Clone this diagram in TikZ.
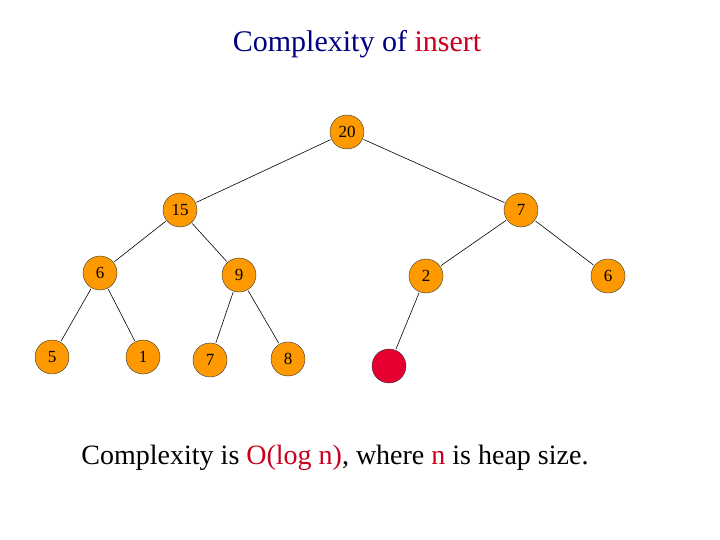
\documentclass[tikz,border=0pt]{standalone}
\usepackage{fontspec}
\setmainfont{Liberation Serif}
\definecolor{heap}{RGB}{255,153,0}
\definecolor{newn}{RGB}{230,0,50}
\definecolor{ttl}{RGB}{0,0,128}
\definecolor{hl}{RGB}{200,0,30}
\begin{document}
\begin{tikzpicture}[x=1pt,y=-1pt,
  hn/.style={circle,draw=black!80,fill=heap,minimum size=34pt,inner sep=0pt,font=\fontsize{17}{17}\selectfont},
  nn/.style={hn,fill=newn},
  ed/.style={draw=black,line width=0.6pt,shorten <=1pt,shorten >=1pt}]
\useasboundingbox (0,0) rectangle (720,540);
\node[text=ttl,font=\fontsize{30}{30}\selectfont] (title) at (357,44) {Complexity of \textcolor{hl}{insert}};
\node[hn] (a) at (347,132) {20};
\node[hn] (b) at (180,210) {15};
\node[hn] (c) at (521,210) {7};
\node[hn] (d) at (100,273) {6};
\node[hn] (e) at (239,275) {9};
\node[hn] (f) at (426,276) {2};
\node[hn] (g) at (608,276) {6};
\node[hn] (h) at (52,357) {5};
\node[hn] (i) at (143,357) {1};
\node[hn] (j) at (210,360) {7};
\node[hn] (k) at (288,359) {8};
\node[nn] (l) at (389,366) {};
\foreach \u/\v in {a/b,a/c,b/d,b/e,c/f,c/g,d/h,d/i,e/j,e/k,f/l} \draw[ed] (\u) -- (\v);
\node[font=\fontsize{28}{28}\selectfont] (txt) at (335,458) {Complexity is \textcolor{hl}{O(log n)}, where \textcolor{hl}{n} is heap size.};
\end{tikzpicture}
\end{document}
